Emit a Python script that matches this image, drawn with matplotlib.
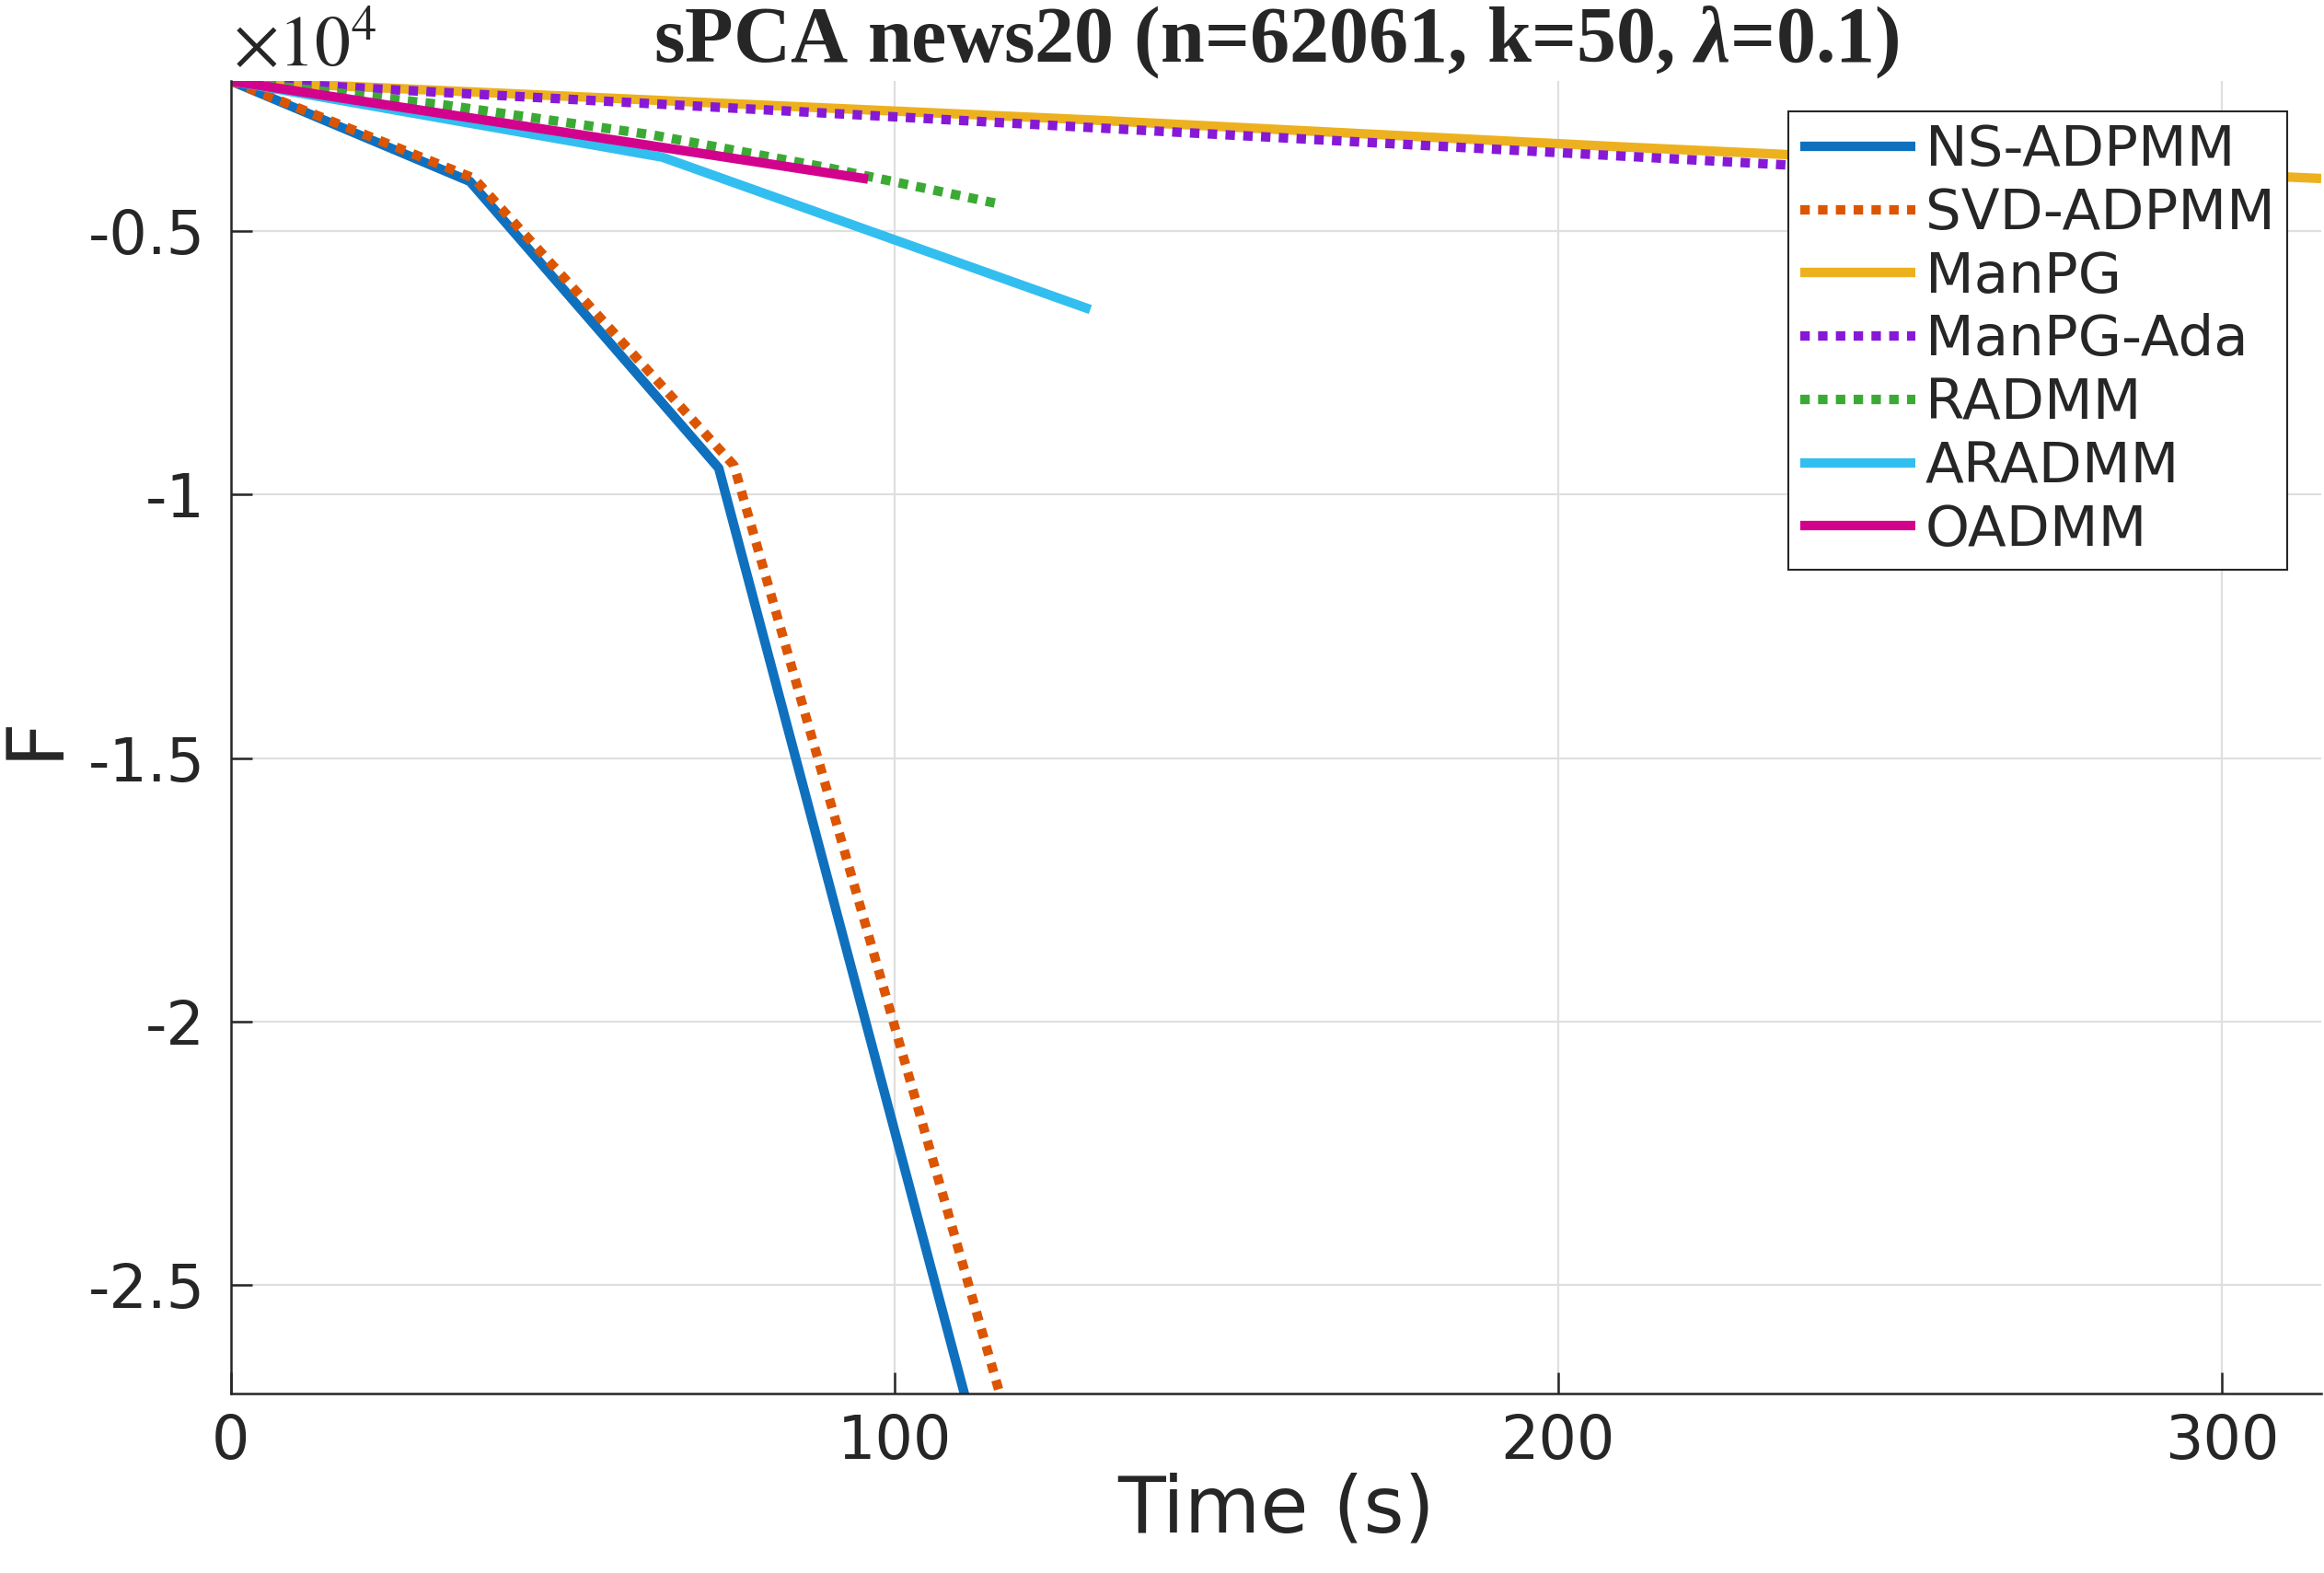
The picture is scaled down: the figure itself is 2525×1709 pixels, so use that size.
import matplotlib
matplotlib.use("Agg")
import matplotlib.pyplot as plt
from matplotlib.ticker import FuncFormatter, FixedLocator

# ---------------- data ----------------
labels = ["NS-ADPMM", "SVD-ADPMM", "ManPG", "ManPG-Ada", "RADMM", "ARADMM", "OADMM"]

t_ns = [0, 36.0, 73.5, 112.5]
f_ns = [-2155, -4060, -9500, -28000]

t_svd = [0, 36.6, 75.8, 118.0]
f_svd = [-2155, -4000, -9450, -28000]

t_manpg = [0, 130.6, 207.8, 234.4, 315]
f_manpg = [-2155, -2900, -3394, -3550, -4005]

t_ada = [0, 99.3, 130.6, 208.3, 233.3, 265]
f_ada = [-2155, -2830, -3045, -3570, -3740, -3960]

t_radmm = [0, 32.2, 63.6, 89.9, 115.1]
f_radmm = [-2155, -2610, -3180, -3800, -4470]

t_aradmm = [0, 65, 129.5]
f_aradmm = [-2155, -3600, -6490]

t_oadmm = [0, 96]
f_oadmm = [-2155, -4016]

xticks = [0, 100, 200, 300]
yticks = [-25000, -20000, -15000, -10000, -5000]

# ---------------- style ----------------
plt.rcParams['mathtext.fontset'] = 'custom'
plt.rcParams['mathtext.rm'] = 'Liberation Serif:bold'
plt.rcParams['mathtext.it'] = 'Liberation Serif:italic:bold'
plt.rcParams['mathtext.bf'] = 'Liberation Serif:bold'

TXT = "#262626"
colors = ["#0F70BE", "#DC5502", "#EDB120", "#8719D6", "#3BAA35", "#33BEF0", "#D2028C"]
dot = (0, (1.0, 0.88))
styles = ["-", dot, "-", dot, dot, "-", "-"]
series = [(t_ns, f_ns), (t_svd, f_svd), (t_manpg, f_manpg), (t_ada, f_ada),
          (t_radmm, f_radmm), (t_aradmm, f_aradmm), (t_oadmm, f_oadmm)]

W, H = 2525, 1709
fig = plt.figure(figsize=(W / 100, H / 100), dpi=100)
ax_left, ax_right = 251 / W, 2522 / W
ax_bottom, ax_top = 1 - 1513.7 / H, 1 - 88 / H
ax = fig.add_axes([ax_left, ax_bottom, ax_right - ax_left, ax_top - ax_bottom])

for (t, f), c, ls, lab in zip(series, colors, styles, labels):
    ax.plot(t, f, color=c, linestyle=ls, linewidth=7.4, label=lab,
            solid_capstyle='butt', dash_capstyle='butt')

ax.set_xlim(0, 315)
ax.set_ylim(-27050, -2155)
ax.xaxis.set_major_locator(FixedLocator(xticks))
ax.yaxis.set_major_locator(FixedLocator(yticks))
ax.yaxis.set_major_formatter(FuncFormatter(lambda v, p: f"{v / 1e4:g}"))
ax.xaxis.set_major_formatter(FuncFormatter(lambda v, p: f"{v:g}"))

ax.grid(True, color="#DFDFDF", linewidth=1.6)
ax.set_axisbelow(True)
for s in ["top", "right"]:
    ax.spines[s].set_visible(False)
for s in ["left", "bottom"]:
    ax.spines[s].set_linewidth(1.8)
    ax.spines[s].set_color(TXT)

ax.tick_params(axis='both', direction='in', length=16.5, width=1.8, color=TXT,
               labelsize=47, labelcolor=TXT)
ax.tick_params(axis='x', pad=15)
ax.tick_params(axis='y', pad=20)

ax.set_xlabel("Time (s)", fontsize=61, color=TXT, labelpad=1)
ax.set_ylabel("F", fontsize=61, color=TXT, labelpad=12)

ax.set_title(r"sPCA news20 (n=62061, k=50, $\lambda$=0.1)", fontsize=62,
             fontfamily="Liberation Serif", fontweight="bold", color=TXT, pad=6)

# exponent marker (x10^4) in serif, as MATLAB draws it
fig.text(253 / W, 1 - 71.7 / H, r"$\times\mathrm{10}^{\mathrm{4}}$", fontsize=56,
         math_fontfamily='stix', color=TXT, ha='left', va='baseline')

leg_x = (1942.7 - 251) / (2522 - 251)
leg_y = (1513.7 - 120.7) / (1513.7 - 88)
leg = ax.legend(loc='upper left', bbox_to_anchor=(leg_x, leg_y), borderaxespad=0,
                fontsize=44, frameon=True, fancybox=False, framealpha=1,
                edgecolor=TXT, handlelength=2.05, handletextpad=0.17,
                borderpad=0.22, labelspacing=0.16)
leg.get_frame().set_linewidth(1.5)
for txt in leg.get_texts():
    txt.set_color(TXT)

fig.savefig("out.png", dpi=100)
